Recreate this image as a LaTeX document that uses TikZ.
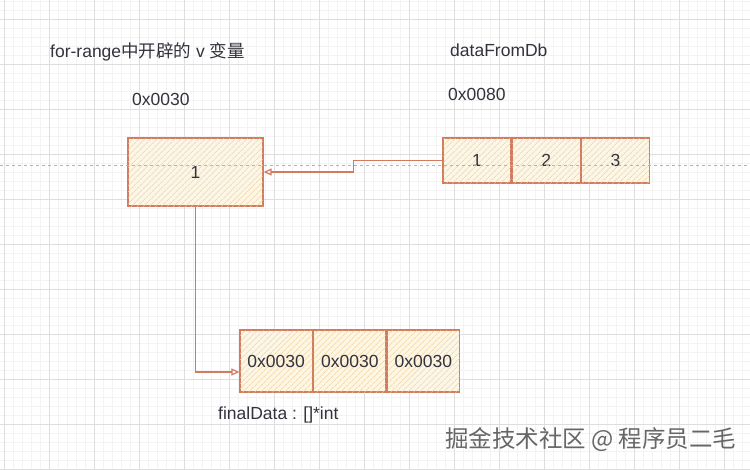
\documentclass[tikz,border=0pt]{standalone}
\usepackage{fontspec}
\setmainfont{Liberation Sans}
\newfontfamily\cjk{Noto Sans CJK SC}
\usetikzlibrary{positioning,arrows.meta,patterns.meta}

\begin{document}
\begin{tikzpicture}[x=1pt, y=-1pt,
    every node/.style={font=\fontsize{17.5}{21}\selectfont, text=textColour},
    cellbox/.style={draw=borderColour, line width=1.3pt, fill=fillColour, inner sep=0pt,
        postaction={pattern={Lines[angle=45,distance=4pt,line width=0.5pt]}, pattern color=hatchColour}},
    label/.style={anchor=west, inner sep=0pt},
    link/.style={draw=borderColour, line width=1.2pt, -{Triangle[open,length=8pt,width=7pt]}}]
    % Define colours
    \definecolor{borderColour}{HTML}{D27B5E}
    \definecolor{fillColour}{HTML}{FDF6E4}
    \definecolor{hatchColour}{HTML}{EBCB94}
    \definecolor{textColour}{HTML}{33333D}
    \definecolor{gridMajor}{HTML}{DEDEDE}
    \definecolor{gridMinor}{HTML}{F3F3F3}

    % Fix the page size
    \useasboundingbox[fill=white] (0,0) rectangle (750,469);

    % Draw grid
    \foreach \x in {4,13,...,750}
        \draw[gridMinor, line width=0.6pt] (\x,0) -- (\x,469);
    \foreach \y in {1,10,...,469}
        \draw[gridMinor, line width=0.6pt] (0,\y) -- (750,\y);
    \foreach \x in {4,49,...,750}
        \draw[gridMajor, line width=0.8pt] (\x,0) -- (\x,469);
    \foreach \y in {19,64,...,469}
        \draw[gridMajor, line width=0.8pt] (0,\y) -- (750,\y);

    % The v variable
    \node[cellbox, minimum width=135pt, minimum height=68pt] (v) at (195.5,172) {1};
    \node[label] (vTitle) at (50,52) {for-range{\cjk 中开辟的} v {\cjk 变量}};
    \node[label] (vAddr) at (132,99) {0x0030};

    % The dataFromDb array
    \node[cellbox, minimum width=68pt, minimum height=45pt] (d1) at (477,160.5) {1};
    \node[cellbox, minimum width=68pt, minimum height=45pt, right=0pt of d1] (d2) {2};
    \node[cellbox, minimum width=68pt, minimum height=45pt, right=0pt of d2] (d3) {3};
    \node[label] (dTitle) at (450,50) {dataFromDb};
    \node[label] (dAddr) at (448,94) {0x0080};

    % The finalData array
    \node[cellbox, minimum width=72.3pt, minimum height=62pt] (f1) at (276.2,361) {0x0030};
    \node[cellbox, minimum width=72.3pt, minimum height=62pt, right=0pt of f1] (f2) {0x0030};
    \node[cellbox, minimum width=72.3pt, minimum height=62pt, right=0pt of f2] (f3) {0x0030};
    \node[label] (fTitle) at (218,415) {finalData : []*int};

    % Dashed guide line
    \draw[gray!60, dashed, line width=0.6pt] (0,165) -- (750,165);

    % Draw the links
    \draw[link] (d1.west) -- ++(-89,0) |- (v.east);
    \draw[link] (v.south) |- ([yshift=-11pt]f1.west);

    % Watermark
    \node[label, text=gray!80!black, font=\cjk\fontsize{23.5}{28}\selectfont] (mark) at (445,440) {掘金技术社区 @ 程序员二毛};

\end{tikzpicture}
\end{document}
